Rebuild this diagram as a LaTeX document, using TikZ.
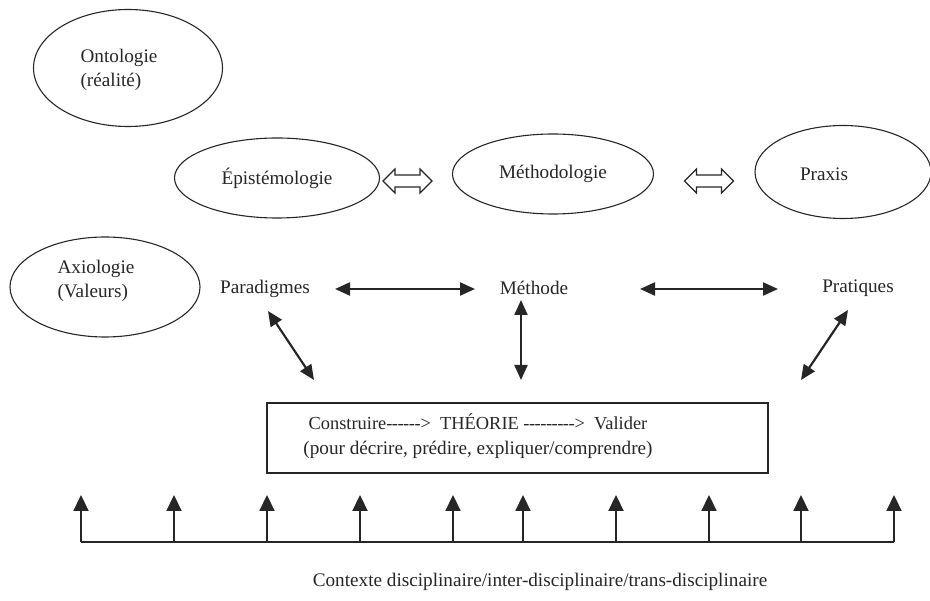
\documentclass[tikz,border=0pt]{standalone}
\usepackage{fontspec}
\setmainfont{Liberation Serif}[Ligatures=TeXOff]
\usetikzlibrary{shapes.geometric,arrows.meta}
% a hyphen set a little tighter, for the dashed runs in the box
\newcommand{\hy}{-\kern-0.5pt}
\begin{document}
\begin{tikzpicture}[x=1pt,y=-1pt,
  every node/.style={font=\fontsize{19.2}{24.5}\selectfont, text=black!85},
  oval/.style={draw=black!85, line width=1.1pt, ellipse, inner sep=0pt},
  txt/.style={inner sep=0pt, align=left},
  link/.style={draw=black!85, line width=2.2pt, {Triangle[length=15pt,width=13pt]}-{Triangle[length=15pt,width=13pt]}},
  up/.style={draw=black!85, line width=2.2pt, -{Triangle[length=16pt,width=15pt]}},
  hollow/.style={draw=black!85, line width=1.1pt, fill=white, line join=miter}
]
\useasboundingbox (0,0) rectangle (930,601);

% hollow double arrow of length 49 centred on a coordinate
\newcommand{\hollowarrow}[1]{%
  \draw[hollow] (#1) ++(-24.5,0) -- ++(12,-12) -- ++(0,6) -- ++(25,0) -- ++(0,-6)
    -- ++(12,12) -- ++(-12,12) -- ++(0,-6) -- ++(-25,0) -- ++(0,6) -- cycle;}

% upper ellipses
\node[oval, minimum width=189pt, minimum height=117pt] (onto) at (128,68) {};
\node[txt] (ontot) at (119,70) {Ontologie\\(réalité)};

\node[oval, minimum width=205pt, minimum height=80pt] (epis) at (277,178) {Épistémologie};
\node[oval, minimum width=201pt, minimum height=80pt] (meth) at (553,174) {Méthodologie};
\node[oval, minimum width=176pt, minimum height=93pt] (prax) at (843,172) {};
\node[txt] (praxt) at (824,174) {Praxis};

\coordinate (h1) at (407.5,181);
\coordinate (h2) at (709,181);
\hollowarrow{h1}
\hollowarrow{h2}

\node[oval, minimum width=190pt, minimum height=100pt] (axio) at (105,287) {};
\node[txt] (axiot) at (96,281) {Axiologie\\(Valeurs)};

% second row
\node[txt] (para) at (265,289) {Paradigmes};
\node[txt] (meto) at (534,288) {Méthode};
\node[txt] (prat) at (858,288) {Pratiques};

\coordinate (pa1) at (335,289);
\coordinate (pa2) at (475,289);
\coordinate (pb1) at (640,289);
\coordinate (pb2) at (778,289);
\draw[link] (pa1) -- (pa2);
\draw[link] (pb1) -- (pb2);

% theory box
\node[draw=black!85, line width=1.1pt, minimum width=501pt, minimum height=70pt, inner sep=0pt] (box) at (517.5,438) {};
\node[align=center, inner sep=0pt] (theo) at (478,436) {{\fontsize{18.4}{24.5}\selectfont Construire\hy\hy\hy\hy\hy-> \ THÉORIE \hy\hy\hy\hy\hy\hy\hy\hy-> \ Valider}\\(pour décrire, prédire, expliquer/comprendre)};

\coordinate (d1) at (268,311);
\coordinate (d2) at (314,380);
\coordinate (v1) at (521,300);
\coordinate (v2) at (521,380);
\coordinate (r1) at (848,310);
\coordinate (r2) at (801,380);
\draw[link] (d1) -- (d2);
\draw[link] (v1) -- (v2);
\draw[link] (r1) -- (r2);

% context bar with arrows
\coordinate (b0) at (81,542);
\coordinate (b9) at (894,542);
\draw[draw=black!85, line width=2.2pt] (b0) -- (b9);
\foreach \xx [count=\i] in {81,174,267,360,453,523,616,709,801,894}{
  \coordinate (f\i) at (\xx,542);
  \coordinate (t\i) at (\xx,495);
  \draw[up] (f\i) -- (t\i);
}
\node[inner sep=0pt] (ctx) at (540,582) {Contexte disciplinaire/inter-disciplinaire/trans-disciplinaire};
\end{tikzpicture}
\end{document}
